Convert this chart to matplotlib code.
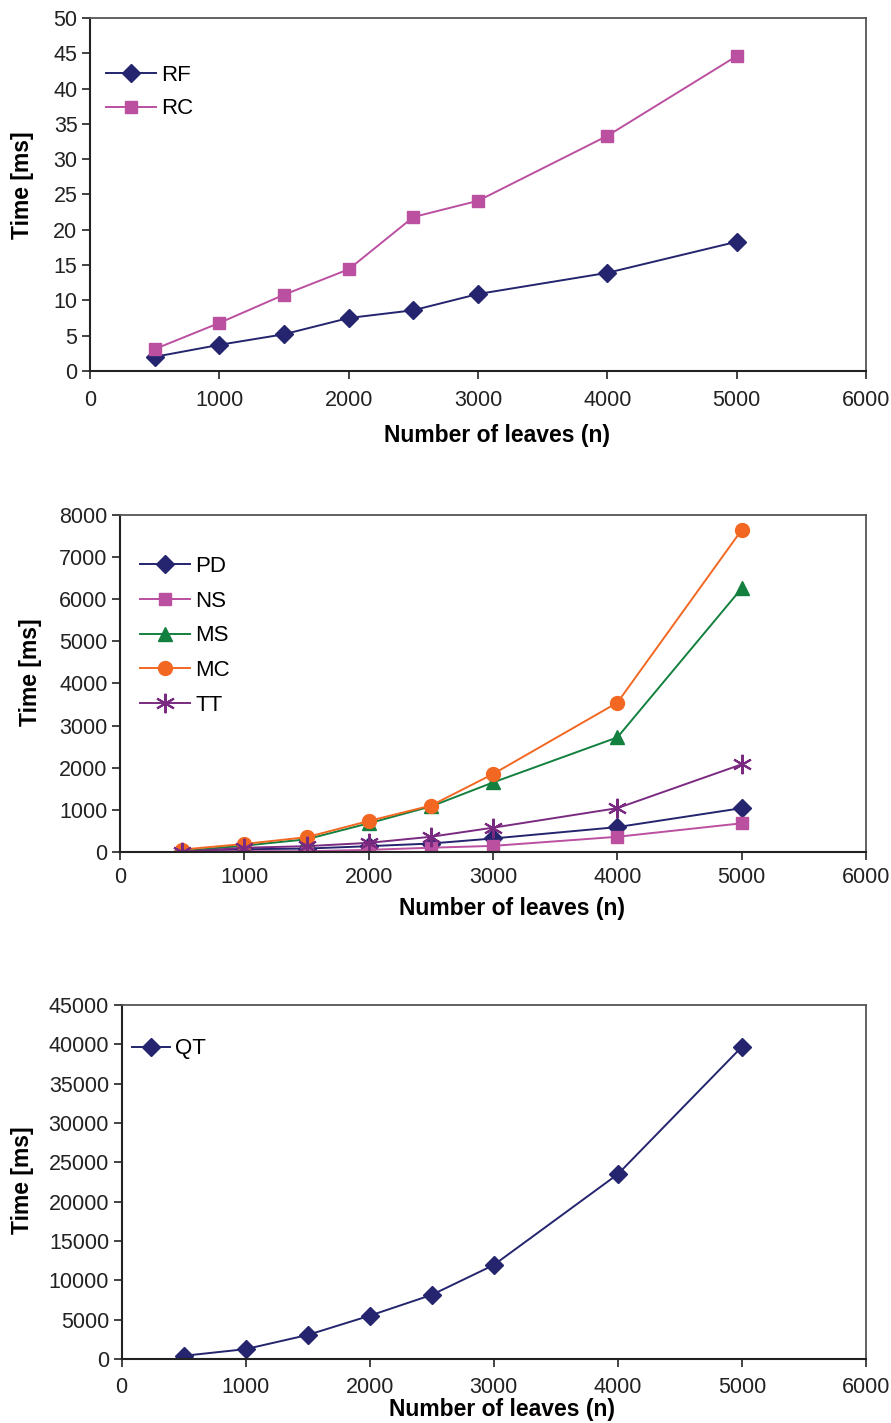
import matplotlib
matplotlib.use("Agg")
import matplotlib.pyplot as plt

plt.rcParams['font.family'] = ['Liberation Sans', 'DejaVu Sans']

leaves = [500, 1000, 1500, 2000, 2500, 3000, 4000, 5000]

# panel 1
rf = [2.0, 3.7, 5.2, 7.5, 8.6, 10.9, 13.9, 18.3]
rc = [3.1, 6.8, 10.8, 14.4, 21.8, 24.1, 33.3, 44.6]

# panel 2
pd_ = [3, 65, 80, 137, 200, 320, 590, 1040]
ns = [2, 20, 17, 50, 100, 144, 360, 680]
ms = [20, 150, 300, 680, 1080, 1650, 2720, 6260]
mc = [57, 190, 350, 735, 1100, 1850, 3545, 7645]
tt = [5, 100, 137, 216, 360, 576, 1040, 2080]

# panel 3
qt = [400, 1250, 3050, 5500, 8150, 11950, 23500, 39700]

NAVY = '#24246f'
PINK = '#bb4fa0'
GREEN = '#13803f'
ORANGE = '#f26822'
PURPLE = '#7a2a80'


def style_axes(ax, ymax, ystep, xpad):
    ax.set_xlim(0, 6000)
    ax.set_ylim(0, ymax)
    ax.set_xticks(range(0, 6001, 1000))
    ax.set_yticks(range(0, ymax + 1, ystep))
    ax.tick_params(labelsize=15.5, direction='out', length=6, width=1.2,
                   colors='#222222', labelcolor='#222222', pad=3)
    ax.tick_params(axis='x', pad=xpad)
    for s in ['left', 'bottom']:
        ax.spines[s].set_color('#222222')
        ax.spines[s].set_linewidth(1.5)
    for s in ['top', 'right']:
        ax.spines[s].set_color('#555555')
        ax.spines[s].set_linewidth(1.3)


fig = plt.figure(figsize=(8.91, 14.23), dpi=100)

# ---- top ----
ax1 = fig.add_axes([0.101, 0.7393, 0.871, 0.2481])
ax1.plot(leaves, rf, color=NAVY, marker='D', ms=9, lw=1.4, label='RF')
ax1.plot(leaves, rc, color=PINK, marker='s', ms=9, lw=1.4, label='RC')
style_axes(ax1, 50, 5, 8)
ax1.set_xlabel('Number of leaves (n)', fontsize=16.5, fontweight='bold', va='center')
ax1.xaxis.set_label_coords(0.524, -0.184)
ax1.set_ylabel('Time [ms]', fontsize=16.5, fontweight='bold', va='center')
ax1.yaxis.set_label_coords(-0.0876, 0.527)
ax1.legend(loc='upper left', bbox_to_anchor=(0.0, 0.91), frameon=False,
           fontsize=16, handlelength=2.25, handletextpad=0.25, labelspacing=0.55,
           borderaxespad=0.3)

# ---- middle ----
ax2 = fig.add_axes([0.1347, 0.4013, 0.8373, 0.2368])
ax2.plot(leaves, pd_, color=NAVY, marker='D', ms=9, lw=1.4, label='PD')
ax2.plot(leaves, ns, color=PINK, marker='s', ms=9, lw=1.4, label='NS')
ax2.plot(leaves, ms, color=GREEN, marker='^', ms=10, lw=1.4, label='MS')
ax2.plot(leaves, mc, color=ORANGE, marker='o', ms=10, lw=1.4, label='MC')
ax2.plot(leaves, tt, color=PURPLE, marker=(6, 2, 0), ms=14, mew=1.5, lw=1.4, label='TT')
style_axes(ax2, 8000, 1000, 4.5)
ax2.set_xlabel('Number of leaves (n)', fontsize=16.5, fontweight='bold', va='center')
ax2.xaxis.set_label_coords(0.525, -0.169)
ax2.set_ylabel('Time [ms]', fontsize=16.5, fontweight='bold', va='center')
ax2.yaxis.set_label_coords(-0.1206, 0.534)
ax2.legend(loc='upper left', bbox_to_anchor=(0.006, 0.925), frameon=False,
           fontsize=16, handlelength=2.25, handletextpad=0.25, labelspacing=0.62,
           borderaxespad=0.3)

# ---- bottom ----
ax3 = fig.add_axes([0.1364, 0.045, 0.8356, 0.2487])
ax3.plot(leaves, qt, color=NAVY, marker='D', ms=9, lw=1.4, label='QT')
style_axes(ax3, 45000, 5000, 7)
ax3.set_xlabel('Number of leaves (n)', fontsize=16.5, fontweight='bold', va='center')
ax3.xaxis.set_label_coords(0.511, -0.144)
ax3.set_ylabel('Time [ms]', fontsize=16.5, fontweight='bold', va='center')
ax3.yaxis.set_label_coords(-0.1336, 0.506)
ax3.legend(loc='upper left', bbox_to_anchor=(-0.007, 0.95), frameon=False,
           fontsize=16, handlelength=1.7, handletextpad=0.25,
           borderaxespad=0.3)

fig.savefig('out.png', dpi=100)
